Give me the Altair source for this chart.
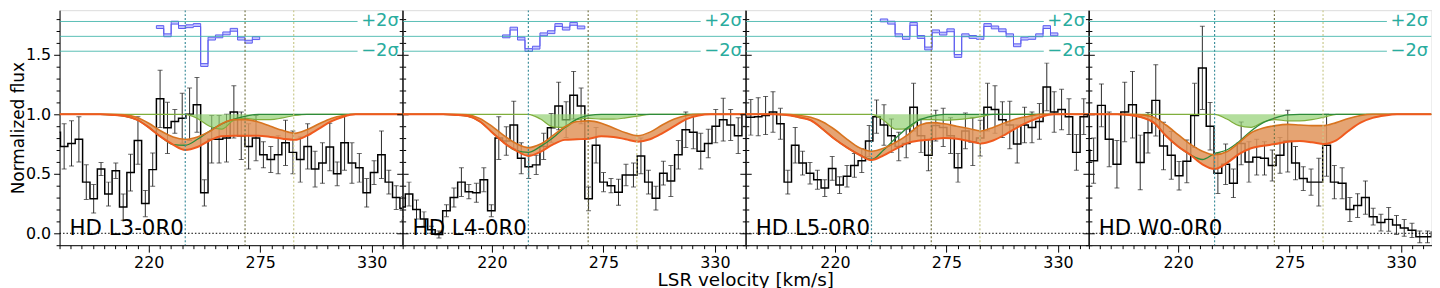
import altair as alt
import pandas as pd

# ---------------- data ----------------
PANEL_LABELS = ["HD L3-0R0", "HD L4-0R0", "HD L5-0R0", "HD W0-0R0"]
BIN_START = [172.8, 173.6, 173.0, 172.6]
BIN_WIDTH = [3.64, 3.69, 3.65, 3.83]

FLUX_1 = [0.85, 0.73, 0.755, 0.79, 0.43, 0.29, 0.54, 0.33, 0.525, 0.22, 0.51, 0.78, 0.25, 0.535,
          1.13, 0.886, 0.94, 0.967, 1.0, 1.08, 0.34, 0.79, 0.79, 0.80, 1.02, 0.82, 0.73, 0.80,
          0.66, 0.62, 0.66, 0.76, 0.68, 0.62, 0.73, 0.54, 0.59, 0.725, 0.50, 0.76, 0.59, 0.55,
          0.34, 0.51, 0.66, 0.43, 0.30, 0.21]
ERR_1 = [0.15, 0.19, 0.19, 0.19, 0.145, 0.12, 0.055, 0.10, 0.065, 0.11, 0.155, 0.20, 0.11, 0.14,
         0.24, 0.215, 0.10, 0.21, 0.22, 0.23, 0.11, 0.20, 0.20, 0.20, 0.22, 0.20, 0.19, 0.19,
         0.11, 0.11, 0.16, 0.19, 0.18, 0.19, 0.19, 0.15, 0.17, 0.20, 0.10, 0.23, 0.17, 0.12,
         0.12, 0.10, 0.20, 0.10, 0.10, 0.10]

FLUX_2 = [0.22, 0.33, 0.20, 0.12, 0.03, -0.01, 0.19, 0.30, 0.43, 0.35, 0.34, 0.45, 0.19, 0.80,
          0.775, 0.91, 0.63, 0.56, 0.575, 0.73, 0.886, 1.07, 0.955, 1.16, 1.07, 0.29, 0.74, 0.43,
          0.40, 0.345, 0.49, 0.49, 0.65, 0.43, 0.295, 0.505, 0.44, 0.66, 0.87, 0.85, 0.69, 0.755,
          0.90, 0.955, 0.91, 0.82, 1.0]
ERR_2 = [0.08, 0.10, 0.08, 0.06, 0.03, 0.03, 0.05, 0.08, 0.12, 0.06, 0.08, 0.10, 0.05, 0.18,
         0.12, 0.20, 0.13, 0.10, 0.08, 0.11, 0.12, 0.20, 0.15, 0.20, 0.15, 0.10, 0.15, 0.08,
         0.06, 0.11, 0.09, 0.10, 0.15, 0.10, 0.10, 0.10, 0.13, 0.12, 0.15, 0.14, 0.15, 0.12,
         0.14, 0.18, 0.13, 0.15, 0.10]

FLUX_3 = [0.975, 0.975, 0.98, 0.99, 1.02, 0.92, 0.43, 0.74, 0.59, 0.505, 0.45, 0.38, 0.545, 0.405,
          0.48, 0.57, 0.61, 0.775, 0.98, 0.91, 0.82, 0.73, 0.755, 1.06, 0.82, 0.655, 0.905, 0.89,
          0.82, 0.55, 0.86, 0.77, 0.80, 1.06, 1.04, 0.955, 0.91, 0.75, 0.91, 0.89, 0.94, 1.23,
          1.02, 1.04, 0.98, 0.68, 0.98, 1.0]
ERR_3 = [0.15, 0.15, 0.16, 0.16, 0.17, 0.13, 0.10, 0.15, 0.10, 0.09, 0.08, 0.07, 0.10, 0.07,
         0.09, 0.10, 0.10, 0.13, 0.14, 0.17, 0.14, 0.12, 0.12, 0.20, 0.14, 0.13, 0.13, 0.16,
         0.15, 0.12, 0.15, 0.20, 0.15, 0.20, 0.20, 0.15, 0.20, 0.16, 0.15, 0.13, 0.15, 0.20,
         0.17, 0.17, 0.15, 0.15, 0.15, 0.15]

FLUX_4 = [0.70, 0.61, 1.075, 0.79, 0.58, 1.02, 1.08, 0.595, 0.845, 1.117, 0.733, 0.655, 0.483,
          0.605, 0.99, 1.39, 0.90, 0.505, 0.58, 0.42, 0.755, 0.60, 0.64, 0.63, 0.57, 0.655, 0.775,
          0.59, 0.46, 0.43, 0.43, 0.74, 0.43, 0.42, 0.20, 0.233, 0.30, 0.14, 0.09, 0.117, 0.07,
          0.045, 0.025, -0.03, -0.03, 0.01]
ERR_4 = [0.15, 0.19, 0.18, 0.23, 0.20, 0.25, 0.28, 0.23, 0.17, 0.30, 0.20, 0.20, 0.12, 0.18,
         0.27, 0.35, 0.20, 0.17, 0.17, 0.12, 0.18, 0.17, 0.15, 0.14, 0.13, 0.15, 0.26, 0.14,
         0.10, 0.11, 0.20, 0.26, 0.14, 0.13, 0.10, 0.10, 0.14, 0.07, 0.07, 0.10, 0.08, 0.07,
         0.06, 0.05, 0.05, 0.05]

# residual strips (1-indexed first bin), plotted on the flux axis
RES_START = [15, 15, 20, None]
RES_1 = [1.733, 1.664, 1.77, 1.733, 1.74, 1.75, 1.414, 1.636, 1.655, 1.68, 1.71, 1.636, 1.61, 1.64]
RES_2 = [1.655, 1.72, 1.636, 1.54, 1.56, 1.672, 1.69, 1.75, 1.72, 1.76, 1.73]
RES_3 = [1.789, 1.77, 1.664, 1.642, 1.76, 1.65, 1.553, 1.697, 1.678, 1.706, 1.49, 1.664, 1.65,
         1.642, 1.75, 1.73, 1.706, 1.664, 1.58, 1.636, 1.642, 1.664, 1.733, 1.672]

# model curves sampled on a common velocity grid
MODEL_V = [176, 190, 196, 202, 208, 214, 220, 226, 232, 238, 244, 250, 256, 262, 268, 274, 280,
           286, 292, 298, 304, 310, 316, 322, 328, 345]
TOTAL_1 = [1, 1, 1.0, 0.995, 0.985, 0.955, 0.89, 0.81, 0.745, 0.70, 0.725, 0.78, 0.815, 0.82, 0.82,
           0.82, 0.81, 0.795, 0.785, 0.82, 0.88, 0.94, 0.98, 1.0, 1.0, 1.0]
UPPER_1 = [1, 1, 1, 1.0, 0.995, 0.975, 0.925, 0.86, 0.81, 0.79, 0.81, 0.855, 0.92, 0.955, 0.955,
           0.935, 0.9, 0.865, 0.84, 0.87, 0.92, 0.965, 0.99, 1.0, 1, 1]
GREEN_1 = [1, 1, 1, 1, 1, 1, 1, 1, 1, 1.0, 0.965, 0.9, 0.875, 0.95, 0.965, 0.955, 0.955, 0.97,
           0.99, 1.0, 1, 1, 1, 1, 1, 1]
DKGREEN_1 = [1, 1, 1.0, 0.995, 0.985, 0.955, 0.89, 0.81, 0.745, 0.74, 0.79, 0.86, 0.92, 0.96,
             0.985, 1.0, 1, 1, 1, 1, 1, 1, 1, 1, 1, 1]

TOTAL_2 = [1, 1, 1.0, 0.995, 0.985, 0.94, 0.85, 0.76, 0.695, 0.65, 0.685, 0.745, 0.785, 0.79, 0.795,
           0.815, 0.81, 0.79, 0.77, 0.79, 0.84, 0.90, 0.96, 0.99, 1.0, 1.0]
UPPER_2 = [1, 1, 1, 1.0, 0.995, 0.965, 0.9, 0.82, 0.755, 0.72, 0.75, 0.82, 0.895, 0.94, 0.945,
           0.925, 0.885, 0.845, 0.82, 0.85, 0.91, 0.96, 0.99, 1.0, 1, 1]
GREEN_2 = [1, 1, 1, 1, 1, 1, 1, 1, 1, 1.0, 0.96, 0.895, 0.89, 0.955, 0.965, 0.96, 0.96, 0.97,
           0.985, 1.0, 1, 1, 1, 1, 1, 1]
DKGREEN_2 = [1, 1, 1.0, 0.995, 0.985, 0.94, 0.85, 0.76, 0.695, 0.68, 0.73, 0.80, 0.89, 0.96,
             0.99, 1.0, 1, 1, 1, 1, 1, 1, 1, 1, 1, 1]

TOTAL_3 = [1, 1.0, 0.995, 0.975, 0.95, 0.875, 0.79, 0.72, 0.66, 0.615, 0.655, 0.71, 0.76, 0.78, 0.79,
           0.80, 0.795, 0.775, 0.755, 0.78, 0.83, 0.89, 0.94, 0.98, 1.0, 1.0]
UPPER_3 = [1, 1, 1.0, 0.99, 0.975, 0.935, 0.87, 0.79, 0.72, 0.69, 0.715, 0.765, 0.83, 0.91, 0.93,
           0.92, 0.90, 0.88, 0.86, 0.89, 0.93, 0.965, 0.985, 1.0, 1, 1]
GREEN_3 = [1, 1, 1, 1, 1, 1, 1, 1, 1, 1.0, 0.95, 0.875, 0.88, 0.955, 0.955, 0.95, 0.955, 0.965,
           0.98, 1.0, 1, 1, 1, 1, 1, 1]
DKGREEN_3 = [1, 1.0, 0.995, 0.975, 0.95, 0.875, 0.79, 0.72, 0.66, 0.62, 0.70, 0.80, 0.89, 0.955,
             0.985, 1.0, 1, 1, 1, 1, 1, 1, 1, 1, 1, 1]

TOTAL_4 = [1, 1, 0.995, 0.975, 0.93, 0.82, 0.73, 0.66, 0.58, 0.54, 0.59, 0.665, 0.715, 0.735, 0.75,
           0.77, 0.775, 0.765, 0.75, 0.78, 0.86, 0.93, 0.97, 0.99, 1, 1]
UPPER_4 = [1, 1, 1.0, 0.995, 0.975, 0.91, 0.83, 0.75, 0.69, 0.66, 0.685, 0.76, 0.845, 0.885, 0.905,
           0.915, 0.91, 0.905, 0.905, 0.93, 0.965, 0.99, 1.0, 1.0, 1, 1]
GREEN_4 = [1, 1, 1, 1, 1, 1, 1, 1, 1, 1.0, 0.96, 0.905, 0.89, 0.935, 0.955, 0.945, 0.945, 0.955,
           0.975, 1.0, 1, 1, 1, 1, 1, 1]
DKGREEN_4 = [1, 1, 0.995, 0.975, 0.93, 0.82, 0.73, 0.66, 0.62, 0.67, 0.70, 0.77, 0.86, 0.93, 0.97,
             0.995, 1, 1, 1, 1, 1, 1, 1, 1, 1, 1]

VLINES = [238.0, 267.5, 291.5]
VLINE_COLORS = ["#3f8f9c", "#77774a", "#c9c98c"]
SIGMA_Y = [1.78, 1.655, 1.53]
SIGMA_TEXT = ["+2σ", "", "−2σ"]

FLUX = [FLUX_1, FLUX_2, FLUX_3, FLUX_4]
ERR = [ERR_1, ERR_2, ERR_3, ERR_4]
RES = [RES_1, RES_2, RES_3, None]
TOTAL = [TOTAL_1, TOTAL_2, TOTAL_3, TOTAL_4]
UPPER = [UPPER_1, UPPER_2, UPPER_3, UPPER_4]
GREEN = [GREEN_1, GREEN_2, GREEN_3, GREEN_4]
DKGREEN = [DKGREEN_1, DKGREEN_2, DKGREEN_3, DKGREEN_4]

# ---------------- layout ----------------
XDOM = [176, 345]
YDOM = [-0.1, 1.875]
PW = 345.5
PH = 237
XTICKS = [round(176 + 5.5 * k, 2) for k in range(31)]
YTICKS = [round(-0.1 + 0.1 * k, 2) for k in range(20)]
FONT = "DejaVu Sans"

xs = alt.Scale(domain=XDOM, nice=False, zero=False)
ys = alt.Scale(domain=YDOM, nice=False, zero=False)

XMAJ = "abs((datum.value-220)/55 - round((datum.value-220)/55)) < 0.001"
YMAJ = "abs(datum.value*2 - round(datum.value*2)) < 0.001"


def x_axis(with_title):
    kw = dict(orient="bottom", values=XTICKS,
              labelExpr=f"{XMAJ} ? format(datum.value, 'd') : ''",
              tickSize={"condition": {"test": XMAJ, "value": 7}, "value": 3.5},
              labelFontSize=16, labelPadding=2, labelFont=FONT, labelColor="black",
              labelOverlap=False, labelBound=False,
              domainColor="black", tickColor="black", grid=False, labelFlush=False)
    if with_title:
        kw.update(title="LSR velocity [km/s]", titleX=PW, titleY=40.5, titleAlign="center",
                  titleBaseline="alphabetic", titleFontSize=18.5, titleFontWeight="normal",
                  titleFont=FONT, titleColor="black")
    else:
        kw.update(title=None)
    return alt.Axis(**kw)


def y_axis(orient, labels, with_title):
    kw = dict(orient=orient, values=YTICKS,
              tickSize={"condition": {"test": YMAJ, "value": 6}, "value": 3.5},
              domainColor="black", tickColor="black", grid=False)
    if labels:
        kw.update(labelExpr=f"{YMAJ} ? format(datum.value, '.1f') : ''", labelFontSize=16,
                  labelPadding=3, labelFont=FONT, labelColor="black", labelOverlap=False,
                  minExtent=32, maxExtent=32)
    else:
        kw.update(labels=False)
    if with_title:
        kw.update(title="Normalized flux", titleFontSize=17, titleFontWeight="normal",
                  titleFont=FONT, titleColor="black", titlePadding=0)
    else:
        kw.update(title=None)
    return alt.Axis(**kw)


def X(field, axis=None):
    return alt.X(field, type="quantitative", scale=xs, axis=axis)


def Y(field, axis=None):
    return alt.Y(field, type="quantitative", scale=ys, axis=axis)


def make_panel(i):
    s0, w = BIN_START[i], BIN_WIDTH[i]
    f, e = FLUX[i], ERR[i]
    n = len(f)
    lefts = [s0 + k * w for k in range(n)]
    bins = pd.DataFrame({"c": [l + w / 2 for l in lefts],
                         "lo": [a - b for a, b in zip(f, e)],
                         "hi": [a + b for a, b in zip(f, e)]})
    steps = pd.DataFrame({"v": lefts + [lefts[-1] + w], "f": f + [f[-1]]})
    model = pd.DataFrame({"v": MODEL_V, "T": TOTAL[i], "U": UPPER[i], "G": GREEN[i],
                          "D": DKGREEN[i]})

    layers = []
    # error bars
    layers.append(alt.Chart(bins).mark_rule(color="#2a2a2a", strokeWidth=1, clip=True).encode(
        x=X("c"), y=Y("lo"), y2="hi"))
    layers.append(alt.Chart(bins).mark_tick(color="#2a2a2a", orient="horizontal", size=5,
                                            thickness=1, clip=True).encode(x=X("c"), y=Y("lo")))
    layers.append(alt.Chart(bins).mark_tick(color="#2a2a2a", orient="horizontal", size=5,
                                            thickness=1, clip=True).encode(x=X("c"), y=Y("hi")))
    # data step line (carries x axis and left y axis)
    layers.append(alt.Chart(steps).mark_line(interpolate="step-after", color="black",
                                             strokeWidth=1.5, clip=True).encode(
        x=X("v", x_axis(i == 1)),
        y=Y("f", y_axis("left", i == 0, i == 0))))
    # model bands
    layers.append(alt.Chart(model).mark_area(interpolate="monotone", color="#e0945a",
                                             opacity=0.85, clip=True).encode(
        x=X("v"), y=Y("U"), y2="T"))
    layers.append(alt.Chart(model).mark_area(interpolate="monotone", color="#8fcf6f",
                                             opacity=0.68, clip=True).encode(
        x=X("v"), y=Y("G"), y2=alt.Y2Datum(1.0)))
    layers.append(alt.Chart(model).mark_line(interpolate="monotone", color="#7fae3c",
                                             strokeWidth=1.2, clip=True).encode(
        x=X("v"), y=Y("G")))
    layers.append(alt.Chart(model).mark_line(interpolate="monotone", color="#2e8b3a",
                                             strokeWidth=1.3, clip=True).encode(
        x=X("v"), y=Y("D")))
    layers.append(alt.Chart(model).mark_line(interpolate="monotone", color="#d8741f",
                                             strokeWidth=1.6, clip=True).encode(
        x=X("v"), y=Y("U")))
    layers.append(alt.Chart(model).mark_line(interpolate="monotone", color="#f05a1e",
                                             strokeWidth=2, clip=True).encode(
        x=X("v"), y=Y("T")))
    # residual strip
    if RES[i] is not None:
        r = RES[i]
        r0 = s0 + (RES_START[i] - 1) * w
        redges = [r0 + k * w for k in range(len(r))]
        res = pd.DataFrame({"v": redges + [redges[-1] + w],
                            "lo": [x - 0.012 for x in r] + [r[-1] - 0.012],
                            "hi": [x + 0.012 for x in r] + [r[-1] + 0.012]})
        layers.append(alt.Chart(res).mark_area(interpolate="step-after", color="#c4c4ff",
                                               stroke="#5c5cf0", strokeWidth=1,
                                               clip=True).encode(
            x=X("v"), y=Y("lo"), y2="hi"))
    # sigma reference lines and labels
    sig = pd.DataFrame({"x": [XDOM[0]] * 3, "x2": [323.0, 345.0, 323.0], "y": SIGMA_Y})
    layers.append(alt.Chart(sig).mark_rule(color="#3bb3a8", strokeWidth=1, opacity=0.85,
                                           clip=True).encode(
        x=X("x"), x2="x2", y=Y("y")))
    sigt = pd.DataFrame({"x": [343.3, 343.3], "y": [SIGMA_Y[0], SIGMA_Y[2]],
                         "t": [SIGMA_TEXT[0], SIGMA_TEXT[2]]})
    layers.append(alt.Chart(sigt).mark_text(align="right", baseline="middle", fontSize=18,
                                            font=FONT, color="#2aac9e").encode(
        x=X("x"), y=Y("y"), text="t:N"))
    # vertical component markers
    vl = pd.DataFrame({"v": VLINES, "c": VLINE_COLORS})
    layers.append(alt.Chart(vl).mark_rule(strokeDash=[2, 2], strokeWidth=1.2, clip=True).encode(
        x=X("v"), color=alt.Color("c:N", scale=None)))
    # zero line (carries the right y axis)
    zero = pd.DataFrame({"x": [XDOM[0]], "x2": [XDOM[1]], "y": [0.0]})
    right_axis = y_axis("right", False, False) if i < 3 else None
    layers.append(alt.Chart(zero).mark_rule(color="black", strokeDash=[1.5, 2], strokeWidth=1,
                                            clip=True).encode(
        x=X("x"), x2="x2", y=Y("y", right_axis)))
    # panel label
    lab = pd.DataFrame({"x": [180.9], "y": [-0.017], "t": [PANEL_LABELS[i]]})
    layers.append(alt.Chart(lab).mark_text(align="left", baseline="alphabetic", fontSize=21.5,
                                           font=FONT, color="black").encode(
        x=X("x"), y=Y("y"), text="t:N"))

    return (alt.layer(*layers)
            .resolve_axis(x="independent", y="independent")
            .properties(width=PW, height=PH))


chart = alt.hconcat(*[make_panel(i) for i in range(4)], spacing=0, bounds="flush").properties(
    padding={"left": 1, "top": 0, "right": 0, "bottom": 0}
).configure_view(stroke=None).configure(font=FONT)

chart.save("out.html", embed_options={"renderer": "svg", "actions": False})
